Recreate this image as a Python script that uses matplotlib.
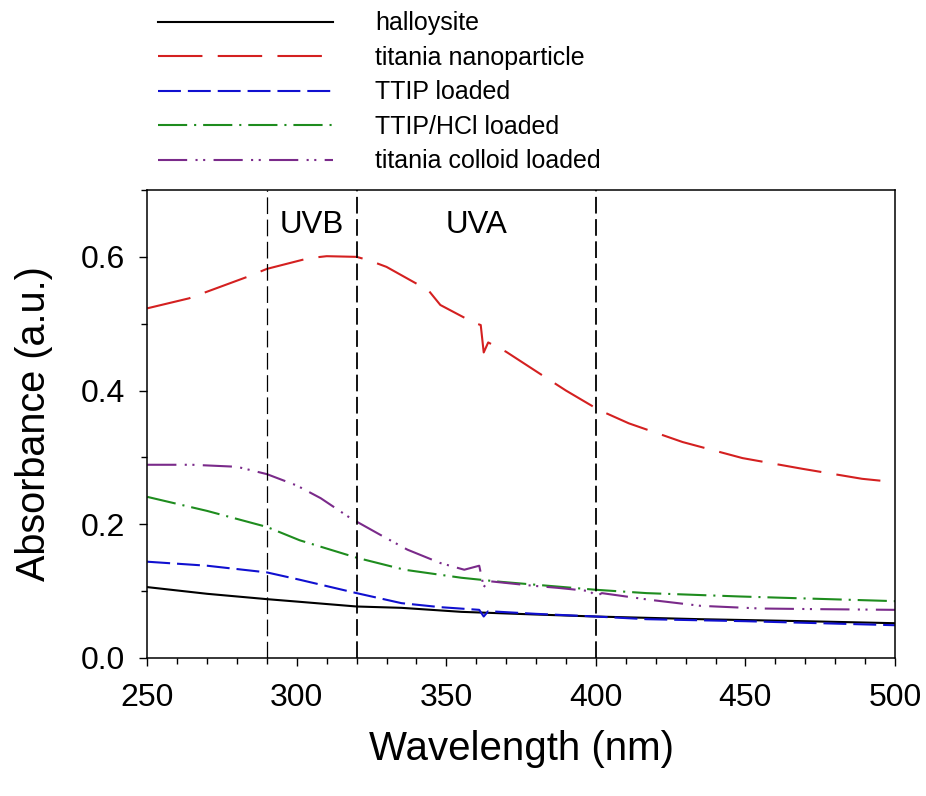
import matplotlib
matplotlib.use('Agg')
from matplotlib import pyplot as plt
from matplotlib.ticker import MultipleLocator

plt.rcParams['font.family'] = ['Liberation Sans', 'DejaVu Sans']
plt.rcParams['lines.scale_dashes'] = False

# wavelengths (nm) and absorbance (a.u.)
halloysite_x = [250, 260, 270, 280, 290, 301, 320, 335, 355, 380, 400, 435, 470, 500]
halloysite_y = [0.106, 0.101, 0.096, 0.092, 0.088, 0.084, 0.077, 0.075, 0.069, 0.065, 0.062, 0.058, 0.055, 0.052]

nano_x = [250, 264, 284, 290, 304, 310, 320, 324, 330, 344, 348, 359, 361.5, 362.5, 364, 370,
          381, 390, 401, 411, 429, 449, 469, 489, 500]
nano_y = [0.523, 0.538, 0.571, 0.582, 0.598, 0.601, 0.600, 0.595, 0.585, 0.550, 0.528, 0.502,
          0.498, 0.457, 0.472, 0.458, 0.426, 0.400, 0.371, 0.351, 0.323, 0.299, 0.283, 0.268, 0.263]

ttip_x = [250, 270, 290, 301, 320, 335, 348, 361, 362.5, 364, 380, 400, 417, 450, 500]
ttip_y = [0.144, 0.138, 0.128, 0.117, 0.097, 0.082, 0.076, 0.072, 0.062, 0.070, 0.066, 0.062, 0.058, 0.055, 0.049]

hcl_x = [250, 270, 290, 301, 320, 336, 355, 368, 400, 417, 448, 500]
hcl_y = [0.241, 0.220, 0.196, 0.176, 0.150, 0.132, 0.120, 0.114, 0.102, 0.097, 0.092, 0.085]

colloid_x = [250, 265, 280, 290, 300, 308, 318, 328, 337, 348, 356, 361, 362.5, 364, 379, 387,
             398, 400, 402, 418, 435, 455, 475, 500]
colloid_y = [0.289, 0.289, 0.286, 0.275, 0.258, 0.239, 0.209, 0.184, 0.162, 0.142, 0.132, 0.138,
             0.106, 0.115, 0.108, 0.105, 0.100, 0.092, 0.097, 0.087, 0.078, 0.074, 0.073, 0.072]

band_edges = [290, 320, 400]
band_labels = ['UVB', 'UVA']
band_label_x = [305, 360]

fig = plt.figure(figsize=(9.26, 7.96), dpi=100)
ax = fig.add_axes([0.159, 0.1734, 0.8075, 0.5879])

ax.plot(halloysite_x, halloysite_y, color='black', lw=1.5, label='halloysite')
ax.plot(nano_x, nano_y, color='#d42020', lw=1.5, dashes=(32, 11), label='titania nanoparticle')
ax.plot(ttip_x, ttip_y, color='#1010d0', lw=1.5, dashes=(16.5, 5), label='TTIP loaded')
ax.plot(hcl_x, hcl_y, color='#1e8c1e', lw=1.5, dashes=(21, 5, 1.5, 5), label='TTIP/HCl loaded')
ax.plot(colloid_x, colloid_y, color='#7a2a8a', lw=1.5, dashes=(21, 6, 1.5, 4, 1.5, 6),
        label='titania colloid loaded')

ax.axvline(band_edges[0], color='black', lw=0.9, dashes=(12, 4))
for edge in band_edges[1:]:
    ax.axvline(edge, color='black', lw=1.3, dashes=(12, 4))

for label, xpos in zip(band_labels, band_label_x):
    ax.text(xpos, 0.648, label, fontsize=22.5, ha='center', va='center')

ax.set_xlim(250, 500)
ax.set_ylim(0, 0.7)
ax.xaxis.set_major_locator(MultipleLocator(50))
ax.xaxis.set_minor_locator(MultipleLocator(10))
ax.yaxis.set_major_locator(MultipleLocator(0.2))
ax.yaxis.set_minor_locator(MultipleLocator(0.1))
ax.yaxis.set_major_formatter(matplotlib.ticker.FormatStrFormatter('%.1f'))
ax.tick_params(which='major', direction='out', length=6, width=1, labelsize=23)
ax.tick_params(axis='x', which='major', pad=12)
ax.tick_params(axis='y', which='major', pad=10)
ax.tick_params(which='minor', direction='out', length=4, width=1)
for spine in ax.spines.values():
    spine.set_linewidth(1.1)

ax.set_xlabel('Wavelength (nm)', fontsize=29, labelpad=12)
ax.set_ylabel('Absorbance (a.u.)', fontsize=28.5, labelpad=20)

handles, labels = ax.get_legend_handles_labels()
fig.legend(handles, labels, loc='upper left', bbox_to_anchor=(0.158, 1.0), frameon=False,
           fontsize=18, handlelength=7.0, handletextpad=1.7, labelspacing=0.42,
           borderaxespad=0.05)

fig.savefig('out.png', dpi=100)
